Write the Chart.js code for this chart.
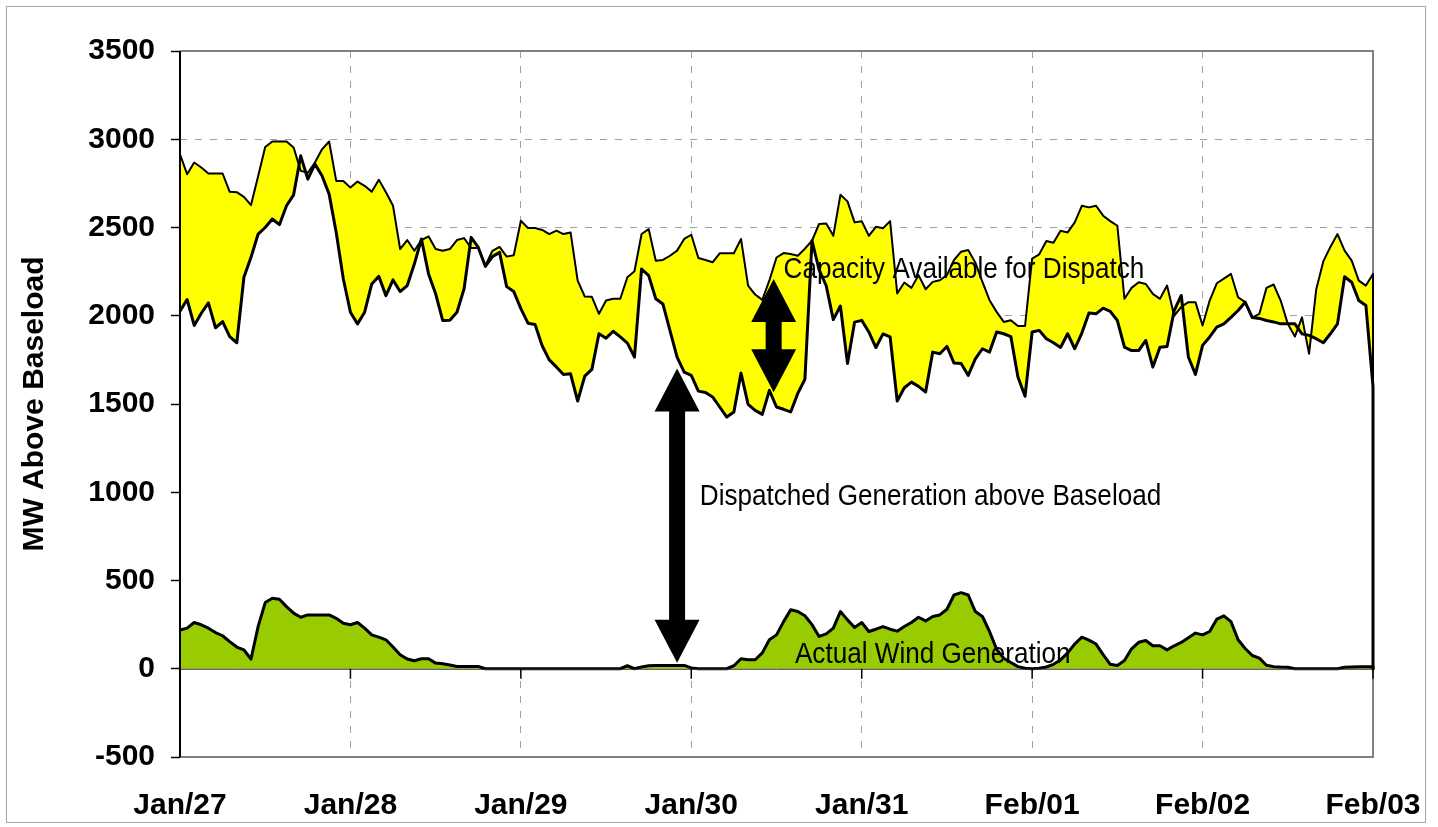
<!DOCTYPE html>
<html>
<head>
<meta charset="utf-8">
<title>Capacity available for dispatch</title>
<script src="https://cdn.jsdelivr.net/npm/chart.js@4"></script>
<style>
  body { margin: 0; background: #fff; }
  canvas { display: block; }
</style>
</head>
<body>
<canvas id="chart" width="1438" height="827"></canvas>
<script>
// hourly samples, Jan/27 00:00 .. Feb/03 00:00, then one closing sample at zero
const dayLabels = ['Jan/27', 'Jan/28', 'Jan/29', 'Jan/30', 'Jan/31', 'Feb/01', 'Feb/02', 'Feb/03']

const capacity = [
  2915, 2802, 2868, 2840, 2806, 2806, 2806, 2702, 2700, 2674,
  2627, 2790, 2956, 2987, 2987, 2987, 2953, 2821, 2810, 2868,
  2943, 2987, 2764, 2764, 2726, 2760, 2736, 2702, 2770, 2700,
  2623, 2378, 2429, 2368, 2429, 2450, 2378, 2368, 2378, 2429,
  2440, 2384, 2384, 2284, 2368, 2390, 2335, 2343, 2538, 2497,
  2497, 2486, 2463, 2482, 2463, 2472, 2199, 2109, 2107, 2011,
  2086, 2096, 2096, 2218, 2252, 2463, 2491, 2312, 2316, 2340,
  2369, 2435, 2459, 2327, 2316, 2303, 2354, 2354, 2354, 2435,
  2171, 2120, 2090, 2200, 2330, 2355, 2350, 2340, 2380, 2425,
  2520, 2522, 2453, 2685, 2648, 2529, 2536, 2453, 2504, 2496,
  2536, 2126, 2188, 2158, 2230, 2150, 2192, 2201, 2230, 2316,
  2363, 2372, 2301, 2192, 2088, 2022, 1965, 1975, 1942, 1942,
  2324, 2348, 2423, 2414, 2482, 2472, 2529, 2623, 2614, 2623,
  2567, 2536, 2510, 2096, 2158, 2190, 2180, 2124, 2096, 2171,
  2000, 2050, 2077, 2077, 1945, 2086, 2184, 2210, 2237, 2105,
  2077, 1990, 2011, 2158, 2177, 2086, 1954, 1882, 1991, 1785,
  2148, 2308, 2390, 2463, 2369, 2312, 2199, 2171, 2237, 0,
]

const dispatched = [
  2025, 2092, 1945, 2014, 2073, 1932, 1967, 1882, 1847, 2218,
  2331, 2463, 2500, 2548, 2516, 2623, 2685, 2906, 2774, 2859,
  2793, 2689, 2472, 2208, 2020, 1954, 2020, 2180, 2223, 2114,
  2203, 2137, 2171, 2293, 2435, 2237, 2124, 1973, 1975, 2020,
  2152, 2444, 2387, 2280, 2335, 2359, 2165, 2137, 2040, 1958,
  1950, 1830, 1750, 1710, 1667, 1671, 1517, 1658, 1696, 1898,
  1873, 1912, 1880, 1845, 1766, 2265, 2227, 2096, 2067, 1916,
  1766, 1681, 1662, 1573, 1565, 1540, 1483, 1426, 1455, 1675,
  1498, 1464, 1441, 1577, 1483, 1470, 1455, 1560, 1640, 2425,
  2260, 2170, 1978, 2055, 1729, 1964, 1974, 1908, 1820, 1897,
  1880, 1517, 1592, 1624, 1600, 1568, 1794, 1785, 1826, 1732,
  1730, 1662, 1756, 1813, 1794, 1908, 1898, 1882, 1653, 1544,
  1908, 1917, 1870, 1847, 1820, 1898, 1813, 1902, 2016, 2011,
  2043, 2025, 1973, 1822, 1803, 1803, 1860, 1709, 1822, 1826,
  2029, 2115, 1766, 1668, 1832, 1880, 1935, 1954, 1991, 2030,
  2077, 1990, 1985, 1973, 1965, 1954, 1954, 1954, 1898, 1889,
  1870, 1847, 1898, 1954, 2221, 2190, 2086, 2058, 1600, 0,
]

const wind = [
  220, 230, 262, 249, 230, 205, 187, 154, 123, 107,
  55, 239, 375, 399, 394, 352, 315, 292, 305, 305,
  305, 305, 286, 258, 249, 262, 230, 192, 179, 164,
  123, 79, 55, 45, 57, 57, 32, 28, 21, 13,
  13, 13, 13, 0, 0, 0, 0, 0, 0, 0,
  0, 0, 0, 0, 0, 0, 0, 0, 0, 0,
  0, 0, 0, 17, 0, 10, 17, 19, 19, 19,
  19, 19, 5, 0, 0, 0, 0, 0, 17, 57,
  51, 51, 90, 164, 192, 267, 334, 324, 300, 250,
  183, 198, 230, 324, 277, 234, 262, 211, 224, 239,
  224, 213, 239, 262, 292, 271, 296, 305, 337, 418,
  431, 418, 324, 296, 211, 110, 60, 35, 12, 3,
  0, 3, 10, 25, 50, 90, 140, 179, 162, 140,
  80, 25, 19, 47, 113, 150, 160, 130, 130, 107,
  130, 149, 175, 202, 192, 211, 281, 300, 267, 164,
  115, 75, 60, 20, 12, 10, 9, 0, 0, 0,
  0, 0, 0, 0, 9, 10, 11, 11, 11, 0,
]

const LAST_HOUR = 168
// the closing sample sits on the last hour, so the series drops straight to zero
const hours = capacity.map((_, i) => Math.min(i, LAST_HOUR))

// annotation positions in data units (hour, MW)
const arrows = [
  { hour: 70, from: 34, to: 1701 },
  { hour: 83.6, from: 1567, to: 2208 },
]
const notes = [
  { text: 'Capacity Available for Dispatch', hour: 85, value: 2216 },
  { text: 'Dispatched Generation above Baseload', hour: 73.2, value: 927 },
  { text: 'Actual Wind Generation', hour: 86.6, value: 34 },
]

const FONT = "'Liberation Sans', Arial, sans-serif"
Chart.defaults.font.family = FONT
Chart.defaults.color = '#000'

const points = (values) => values.map((y, i) => ({ x: hours[i], y }))

const plotFrame = {
  id: 'plotFrame',
  // gray box goes under the lines, so the closing drop at the right edge stays black
  beforeDatasetsDraw(chart) {
    const { ctx, chartArea: { left, right, top, bottom } } = chart
    ctx.save()
    ctx.strokeStyle = '#808080'
    ctx.lineWidth = 2
    ctx.beginPath()
    ctx.moveTo(left, top)
    ctx.lineTo(right, top)
    ctx.lineTo(right, bottom)
    ctx.lineTo(left, bottom)
    ctx.stroke()
    ctx.restore()
  },
  afterDatasetsDraw(chart) {
    const { ctx, chartArea: { left, right, top, bottom }, scales: { x, y } } = chart
    const y0 = y.getPixelForValue(0)
    ctx.save()
    // zero line with the day tick marks hanging below it
    ctx.strokeStyle = '#333'
    ctx.lineWidth = 1
    ctx.beginPath()
    ctx.moveTo(left, y0 + 0.5)
    ctx.lineTo(right, y0 + 0.5)
    ctx.stroke()
    ctx.strokeStyle = '#000'
    ctx.lineWidth = 1.5
    for (let d = 1; d < dayLabels.length; d++) {
      const px = x.getPixelForValue(d * 24)
      ctx.beginPath()
      ctx.moveTo(px, y0)
      ctx.lineTo(px, y0 + 10)
      ctx.stroke()
    }
    ctx.lineWidth = 2
    ctx.beginPath()
    ctx.moveTo(left, top)
    ctx.lineTo(left, bottom)
    ctx.stroke()
    ctx.restore()
  },
  afterDraw(chart) {
    const { ctx } = chart
    ctx.save()
    ctx.strokeStyle = '#A6A6A6'
    ctx.lineWidth = 1
    ctx.strokeRect(6.5, 6.5, 1419, 816)
    ctx.restore()
  },
}

const annotations = {
  id: 'annotations',
  afterDatasetsDraw(chart) {
    const { ctx, scales: { x, y } } = chart
    const headW = 45
    const headH = 43
    const shaftW = 16
    ctx.save()
    ctx.fillStyle = '#000'
    arrows.forEach((a) => {
      const px = x.getPixelForValue(a.hour)
      const yb = y.getPixelForValue(a.from)
      const yt = y.getPixelForValue(a.to)
      ctx.beginPath()
      ctx.moveTo(px, yt)
      ctx.lineTo(px + headW / 2, yt + headH)
      ctx.lineTo(px + shaftW / 2, yt + headH)
      ctx.lineTo(px + shaftW / 2, yb - headH)
      ctx.lineTo(px + headW / 2, yb - headH)
      ctx.lineTo(px, yb)
      ctx.lineTo(px - headW / 2, yb - headH)
      ctx.lineTo(px - shaftW / 2, yb - headH)
      ctx.lineTo(px - shaftW / 2, yt + headH)
      ctx.lineTo(px - headW / 2, yt + headH)
      ctx.closePath()
      ctx.fill()
    })
    ctx.font = '29px ' + FONT
    ctx.textAlign = 'left'
    ctx.textBaseline = 'alphabetic'
    notes.forEach((n) => {
      ctx.save()
      ctx.translate(x.getPixelForValue(n.hour), y.getPixelForValue(n.value))
      ctx.scale(0.9, 1)
      ctx.fillText(n.text, 0, 0)
      ctx.restore()
    })
    ctx.restore()
  },
}

const gridColor = (hide) => (c) =>
  c.tick && hide.includes(c.tick.value) ? 'transparent' : '#A0A0A0'

const tickFont = { size: 30, weight: 'bold' }

new Chart(document.getElementById('chart'), {
  type: 'line',
  data: {
    datasets: [
      {
        label: 'Actual Wind Generation',
        data: points(wind),
        borderColor: '#000',
        borderWidth: 3,
        backgroundColor: '#99CC00',
        fill: 'origin',
        order: 0,
      },
      {
        label: 'Capacity Available for Dispatch',
        data: points(capacity),
        borderColor: '#000',
        borderWidth: 2,
        backgroundColor: '#FFFF00',
        fill: 2,
        order: 1,
      },
      {
        label: 'Dispatched Generation above Baseload',
        data: points(dispatched),
        borderColor: '#000',
        borderWidth: 3,
        backgroundColor: '#FFFFFF',
        fill: 'origin',
        order: 2,
      },
    ],
  },
  options: {
    responsive: false,
    animation: false,
    devicePixelRatio: 1,
    layout: { padding: { top: 51, right: 65, left: 0, bottom: 0 } },
    datasets: { line: { clip: 3 } },
    elements: {
      point: { radius: 0 },
      line: { tension: 0, borderJoinStyle: 'round' },
    },
    plugins: {
      legend: { display: false },
      tooltip: { enabled: false },
      filler: { drawTime: 'beforeDatasetsDraw' },
    },
    scales: {
      x: {
        type: 'linear',
        min: 0,
        max: LAST_HOUR,
        afterFit: (scale) => {
          scale.height = 70
          scale.paddingLeft = 0
          scale.paddingRight = 0
        },
        ticks: {
          stepSize: 24,
          autoSkip: false,
          maxRotation: 0,
          padding: 31,
          font: tickFont,
          callback: (v) => dayLabels[v / 24],
        },
        grid: { color: gridColor([0, LAST_HOUR]), lineWidth: 1, drawTicks: false },
        border: { display: false, dash: [7, 8] },
      },
      y: {
        min: -500,
        max: 3500,
        afterFit: (scale) => { scale.width = 180 },
        ticks: { stepSize: 500, padding: 16, font: tickFont, callback: (v) => String(v) },
        grid: {
          color: gridColor([-500, 3500]),
          lineWidth: 1,
          tickColor: '#000',
          tickLength: 9,
          tickWidth: 1.5,
          tickBorderDash: [],
        },
        border: { display: false, dash: [7, 8] },
        title: {
          display: true,
          text: 'MW Above Baseload',
          font: { size: 30, weight: 'bold' },
          padding: { top: 17, bottom: 0 },
        },
      },
    },
  },
  plugins: [plotFrame, annotations],
})
</script>
</body>
</html>
